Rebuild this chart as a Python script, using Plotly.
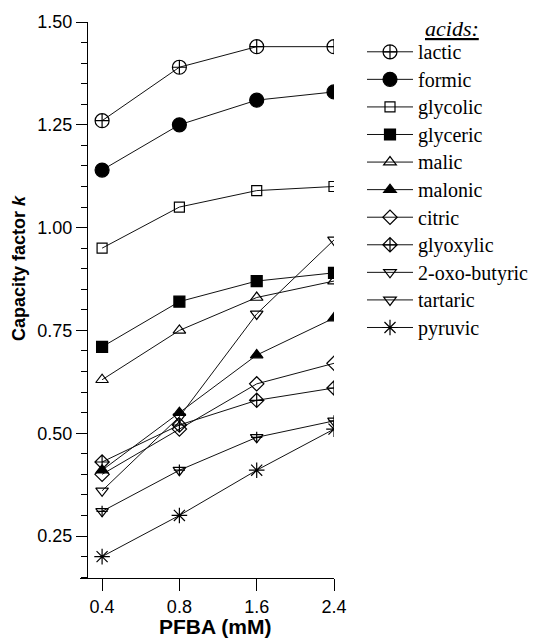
import plotly.graph_objects as go

pfba = ["0.4", "0.8", "1.6", "2.4"]

lactic = [1.26, 1.39, 1.44, 1.44]
formic = [1.14, 1.25, 1.31, 1.33]
glycolic = [0.95, 1.05, 1.09, 1.10]
glyceric = [0.71, 0.82, 0.87, 0.89]
malic = [0.63, 0.75, 0.83, 0.87]
malonic = [0.41, 0.55, 0.69, 0.78]
citric = [0.40, 0.51, 0.62, 0.67]
glyoxylic = [0.43, 0.52, 0.58, 0.61]
oxobutyric = [0.36, 0.54, 0.79, 0.97]
tartaric = [0.31, 0.41, 0.49, 0.53]
pyruvic = [0.20, 0.30, 0.41, 0.51]

yticks = [0.25, 0.50, 0.75, 1.00, 1.25, 1.50]

series = [
    ("lactic", lactic, "circle-cross-open", 14),
    ("formic", formic, "circle", 14),
    ("glycolic", glycolic, "square-open", 10),
    ("glyceric", glyceric, "square", 11),
    ("malic", malic, "triangle-up-open", 11),
    ("malonic", malonic, "triangle-up", 11),
    ("citric", citric, "diamond-open", 11),
    ("glyoxylic", glyoxylic, "diamond-cross-open", 11),
    ("2-oxo-butyric", oxobutyric, "triangle-down-open", 11),
    ("tartaric", tartaric, "triangle-down-open", 11),
    ("pyruvic", pyruvic, "asterisk-open", 13),
]

fig = go.Figure()
for i, (name, vals, sym, sz) in enumerate(series):
    fig.add_trace(go.Scatter(
        x=pfba, y=vals, name='<span style="font-size:20px">' + name + '</span>',
        mode="lines+markers",
        line=dict(color="#111", width=1),
        marker=dict(symbol=sym, size=sz, color="black",
                    line=dict(color="black", width=1.2)),
        legendgroup=name,
    ))
    if name == "tartaric":
        fig.add_trace(go.Scatter(
            x=pfba, y=vals, mode="markers", showlegend=False,
            legendgroup=name, hoverinfo="skip",
            marker=dict(symbol="cross-thin-open", size=8, color="black",
                        line=dict(color="black", width=1.2)),
        ))

W, H = 539, 639
ml, mr, mt, mb = 80, 205, 22, 61
plot_w = W - ml - mr
plot_h = H - mt - mb

SERIF = "Liberation Serif"


def px_x(x):
    return (x - ml) / plot_w


def px_y(y):
    return 1 - (y - mt) / plot_h


fig.update_layout(
    width=W, height=H,
    margin=dict(l=ml, r=mr, t=mt, b=mb, autoexpand=False),
    plot_bgcolor="white", paper_bgcolor="white",
    font=dict(family="Liberation Sans, Arial", color="black", size=18),
    showlegend=True,
    legend=dict(
        xref="container", yref="container",
        x=362 / W, y=1 - 33 / H, xanchor="left", yanchor="top",
        font=dict(family=SERIF, size=18.9, color="black"),
        itemwidth=46, tracegroupgap=0, bgcolor="rgba(0,0,0,0)",
    ),
    xaxis=dict(
        type="category", categoryorder="array", categoryarray=pfba,
        range=[-0.2857, 3.0], showline=True, linecolor="black", linewidth=1,
        ticks="outside", ticklen=12, tickcolor="black", showgrid=False,
        zeroline=False, tickfont=dict(size=18),
    ),
    yaxis=dict(
        range=[0.1479, 1.50], anchor="free", position=7 / plot_w,
        showline=True, linecolor="black", linewidth=1,
        tickvals=yticks, tickformat=".2f", ticks="outside", ticklen=11,
        tickcolor="black", showgrid=False, zeroline=False,
        tickfont=dict(size=18),
        minor=dict(dtick=0.05, tick0=0.25, ticks="outside", ticklen=6,
                   tickcolor="black"),
    ),
    annotations=[
        dict(text="<i><u>acids:</u></i>", xref="paper", yref="paper",
             x=px_x(452), y=px_y(28), xanchor="center", yanchor="middle",
             showarrow=False,
             font=dict(family=SERIF, size=22, color="black")),
        dict(text="<b>PFBA (mM)</b>", xref="paper", yref="paper",
             x=px_x(215), y=px_y(626), xanchor="center", yanchor="middle",
             showarrow=False, font=dict(size=21, color="black")),
        dict(text="<b>Capacity factor <i>k</i></b>", xref="paper", yref="paper",
             x=px_x(19), y=px_y(268), xanchor="center", yanchor="middle",
             textangle=-90, showarrow=False, font=dict(size=18, color="black")),
    ],
)

fig.write_html("out.html", config={"displayModeBar": False},
               post_script="document.body.style.margin='0';document.body.style.overflow='hidden';")
